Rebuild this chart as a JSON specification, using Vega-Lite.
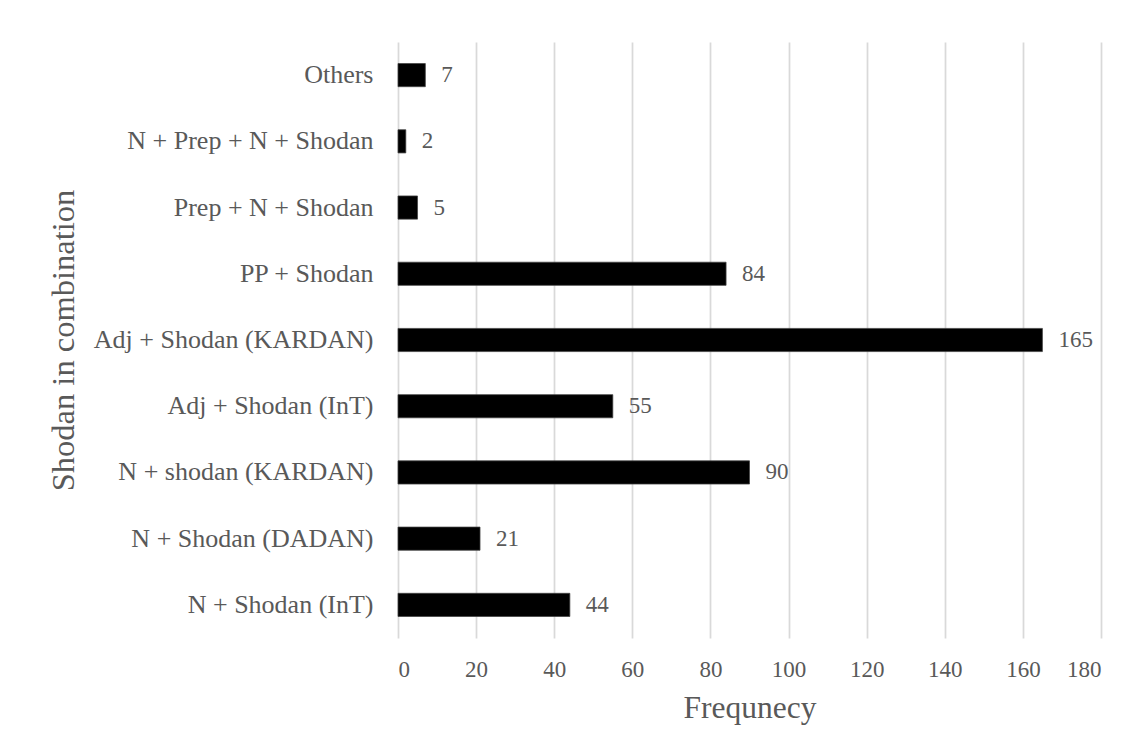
{
  "$schema": "https://vega.github.io/schema/vega-lite/v6.json",
  "autosize": "none",
  "width": 703,
  "height": 596,
  "padding": {"left": 398, "top": 42, "right": 35, "bottom": 114},
  "background": "white",
  "data": {
    "values": [
      {"category": "Others", "frequency": 7},
      {"category": "N + Prep + N + Shodan", "frequency": 2},
      {"category": "Prep + N + Shodan", "frequency": 5},
      {"category": "PP + Shodan", "frequency": 84},
      {"category": "Adj + Shodan (KARDAN)", "frequency": 165},
      {"category": "Adj + Shodan (InT)", "frequency": 55},
      {"category": "N + shodan (KARDAN)", "frequency": 90},
      {"category": "N + Shodan (DADAN)", "frequency": 21},
      {"category": "N + Shodan (InT)", "frequency": 44}
    ]
  },
  "encoding": {
    "y": {
      "field": "category",
      "type": "nominal",
      "sort": null,
      "scale": {"paddingInner": 0.65, "paddingOuter": 0.325},
      "axis": {
        "title": "Shodan in combination",
        "titleFont": "Liberation Serif",
        "titleFontSize": 32.5,
        "titleFontWeight": "normal",
        "titleColor": "#595959",
        "titleBaseline": "alphabetic",
        "titleX": -325,
        "labelFont": "Liberation Serif",
        "labelFontSize": 26,
        "labelColor": "#595959",
        "labelPadding": 25,
        "labelLimit": 400,
        "ticks": false,
        "tickSize": 0,
        "domain": false,
        "grid": false
      }
    },
    "x": {
      "field": "frequency",
      "type": "quantitative",
      "scale": {"domain": [0, 180], "nice": false},
      "axis": {
        "title": "Frequnecy",
        "values": [0, 20, 40, 60, 80, 100, 120, 140, 160, 180],
        "titleFont": "Liberation Serif",
        "titleFontSize": 31.5,
        "titleFontWeight": "normal",
        "titleColor": "#595959",
        "titleBaseline": "alphabetic",
        "titleY": 79,
        "labelFont": "Liberation Serif",
        "labelFontSize": 23,
        "labelColor": "#595959",
        "labelBaseline": "alphabetic",
        "labelPadding": 38,
        "ticks": false,
        "tickSize": 0,
        "domain": false,
        "grid": true,
        "gridColor": "#d9d9d9",
        "gridWidth": 1.75
      }
    }
  },
  "layer": [
    {
      "mark": {"type": "bar", "color": "#000000", "stroke": "#404040", "strokeWidth": 0.75}
    },
    {
      "mark": {
        "type": "text",
        "align": "left",
        "baseline": "middle",
        "dx": 16,
        "font": "Liberation Serif",
        "fontSize": 23,
        "color": "#595959"
      },
      "encoding": {"text": {"field": "frequency", "type": "quantitative"}}
    }
  ],
  "config": {"view": {"stroke": null}}
}
